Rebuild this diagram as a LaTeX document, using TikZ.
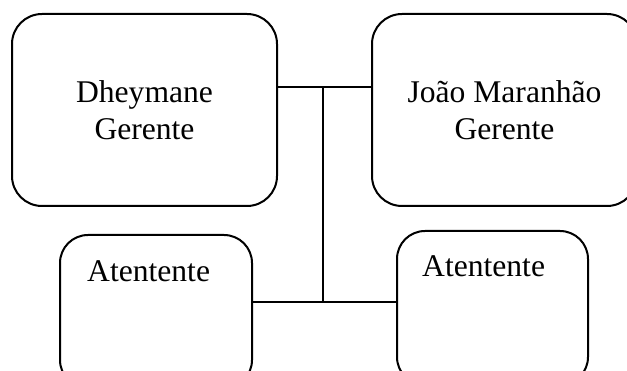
\documentclass[tikz,border=0pt]{standalone}
\usepackage{fontspec}
\setmainfont{Liberation Serif}
\usetikzlibrary{positioning}
\tikzset{
  caixa/.style={draw, line width=2pt, rounded corners=30pt, align=center,
    font=\fontsize{31.6}{37}\selectfont},
  rotulo/.style={font=\fontsize{31.6}{37}\selectfont, inner sep=0pt},
  liga/.style={line width=2pt},
}
\begin{document}
\begin{tikzpicture}[x=1pt, y=-1pt]
    \clip (0,0) rectangle (627,371);
    % Gerentes
    \node[caixa, minimum width=265pt, minimum height=192pt] (dg) at (144.5,110) {Dheymane\\Gerente};
    \node[caixa, minimum width=265pt, minimum height=192pt] (jm) at (504.5,110) {João Maranhão\\Gerente};
    % Atendentes
    \node[caixa, rounded corners=28pt, minimum width=192pt, minimum height=153pt] (at1) at (156,311.5) {};
    \node[rotulo, anchor=base west] (at1txt) at (87,282) {Atentente};
    \node[caixa, rounded corners=28pt, minimum width=191pt, minimum height=154pt] (at2) at (492.5,308) {};
    \node[rotulo, anchor=base west] (at2txt) at (422,277) {Atentente};
    % Ligacoes
    \coordinate (topo) at (323,87);
    \coordinate (base) at (323,302);
    \draw[liga] (dg.east |- topo) -- (jm.west |- topo);
    \draw[liga] (topo) -- (base);
    \draw[liga] (at1.east |- base) -- (at2.west |- base);

\end{tikzpicture}
\end{document}
